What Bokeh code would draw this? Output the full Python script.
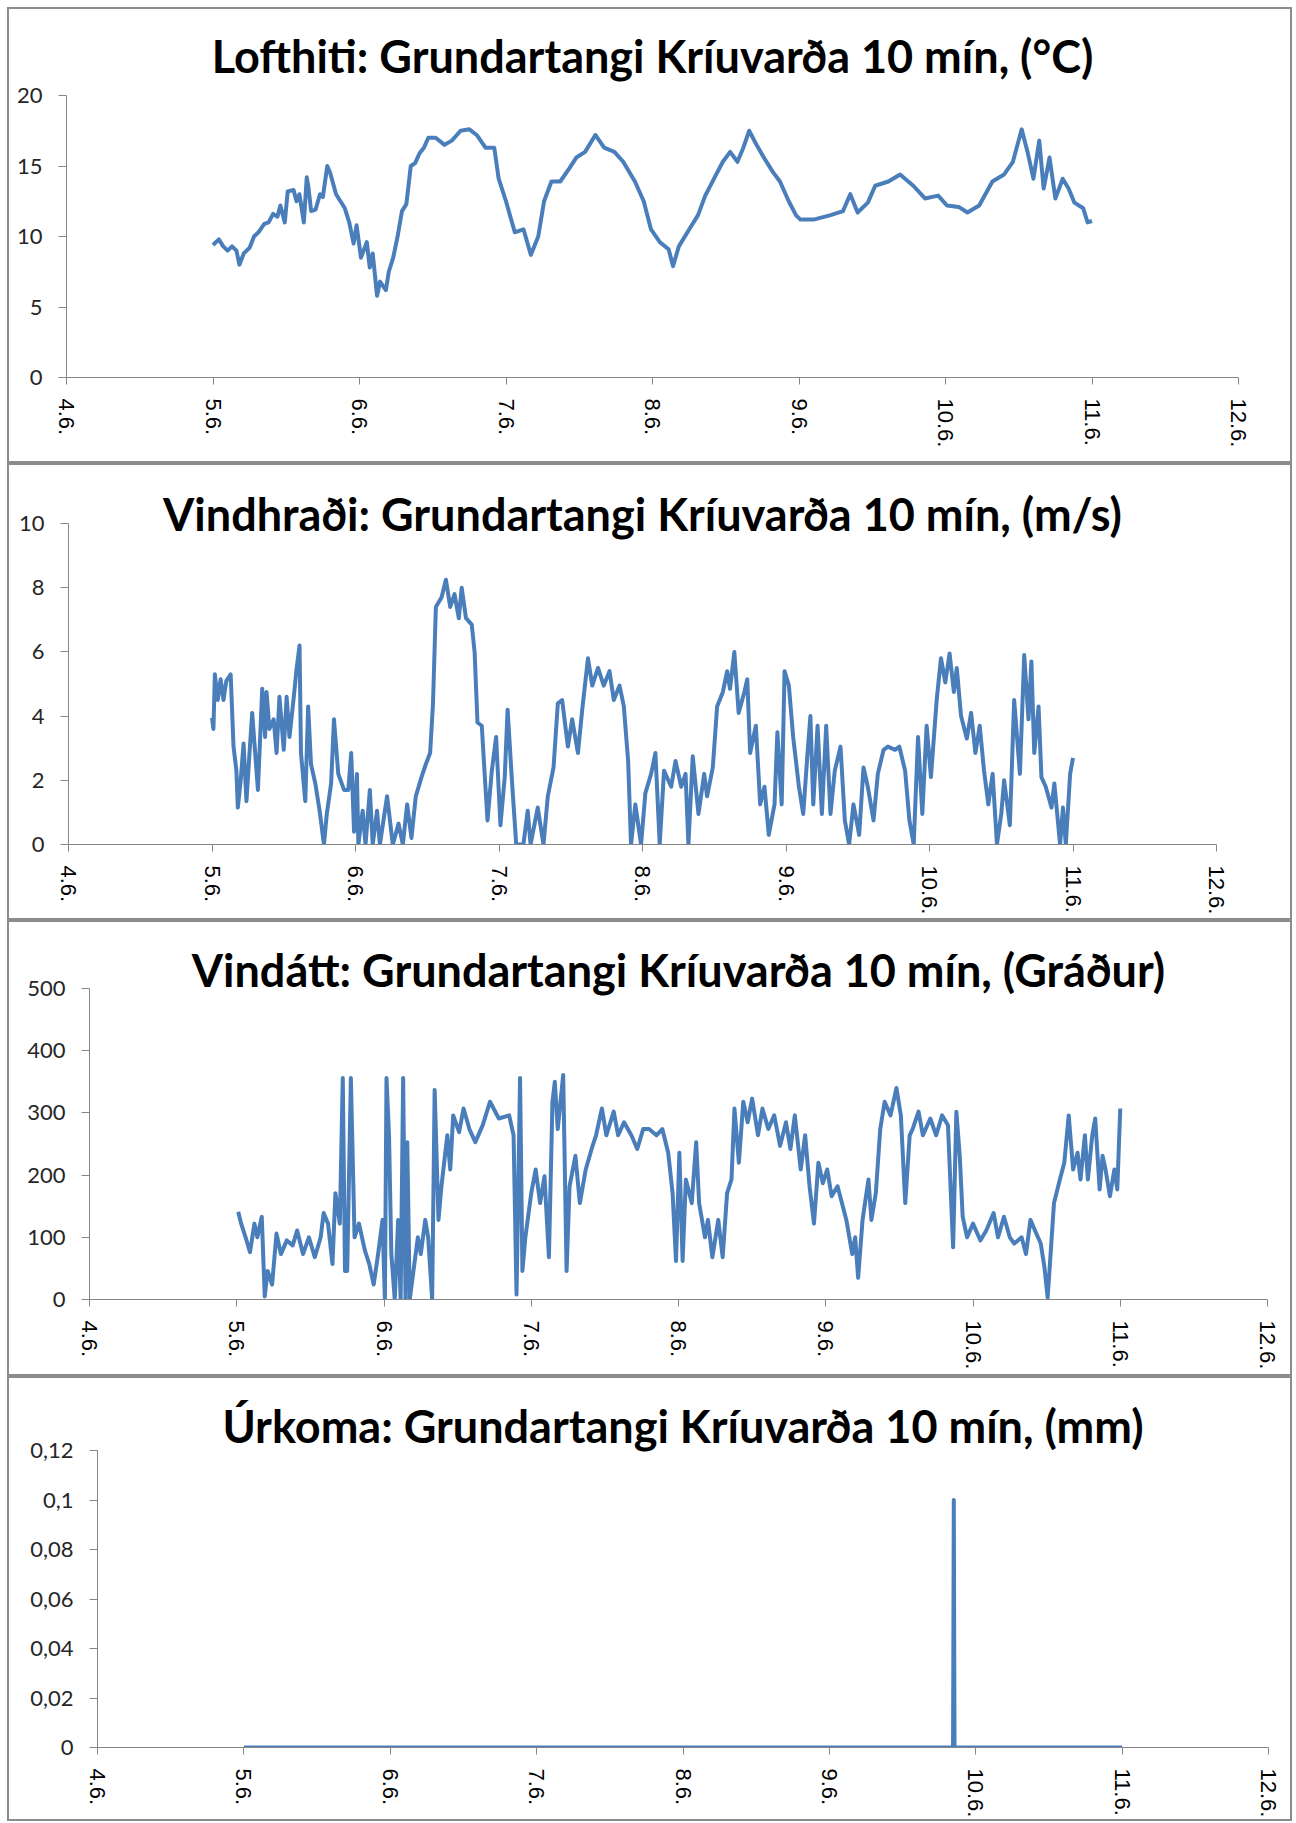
from bokeh.plotting import figure
from bokeh.layouts import column
from bokeh.models import Range1d, FixedTicker, CustomJSTickFormatter
from bokeh.embed import file_html
from bokeh.resources import INLINE

# ---------------- data ----------------
x_ticks = [4, 5, 6, 7, 8, 9, 10, 11, 12]
x_tick_labels = ["4.6.", "5.6.", "6.6.", "7.6.", "8.6.", "9.6.", "10.6.", "11.6.", "12.6."]

temp_day = [5.00, 5.04, 5.07, 5.10, 5.13, 5.16, 5.18, 5.21, 5.25, 5.28, 5.31, 5.35, 5.38, 5.41, 5.44,
            5.46, 5.49, 5.51, 5.55, 5.57, 5.59, 5.62, 5.64, 5.65, 5.67, 5.70, 5.73, 5.75, 5.78, 5.80,
            5.84, 5.87, 5.90, 5.93, 5.96, 5.98, 6.01, 6.05, 6.07, 6.09, 6.12, 6.14, 6.18, 6.20, 6.23,
            6.26, 6.29, 6.32, 6.35, 6.38, 6.41, 6.44, 6.47, 6.52, 6.58, 6.63, 6.69, 6.75, 6.80, 6.86,
            6.92, 6.95, 7.00, 7.06, 7.12, 7.17, 7.22, 7.26, 7.31, 7.37, 7.43, 7.48, 7.54, 7.61, 7.67,
            7.74, 7.80, 7.88, 7.94, 7.99, 8.05, 8.11, 8.14, 8.18, 8.25, 8.31, 8.36, 8.42, 8.48, 8.53,
            8.58, 8.62, 8.66, 8.71, 8.76, 8.82, 8.87, 8.93, 8.98, 9.01, 9.10, 9.21, 9.30, 9.35, 9.40,
            9.47, 9.52, 9.61, 9.69, 9.78, 9.86, 9.95, 10.01, 10.09, 10.15, 10.23, 10.32, 10.40, 10.46,
            10.52, 10.56, 10.60, 10.64, 10.67, 10.71, 10.75, 10.80, 10.84, 10.88, 10.94, 10.97, 11.00]
temp_val = [9.4, 9.8, 9.3, 9.0, 9.3, 9.0, 8.0, 8.8, 9.2, 10.0, 10.3, 10.9, 11.0, 11.6, 11.4,
            12.2, 11.0, 13.2, 13.3, 12.5, 13.0, 11.0, 14.2, 13.6, 11.8, 11.9, 13.0, 12.8, 15.0, 14.5,
            13.0, 12.5, 12.0, 11.0, 9.5, 10.8, 8.5, 9.6, 7.8, 8.8, 5.8, 6.8, 6.2, 7.5, 8.5,
            10.0, 11.8, 12.3, 15.0, 15.2, 15.9, 16.3, 17.0, 17.0, 16.5, 16.8, 17.5, 17.6, 17.2, 16.3,
            16.3, 14.1, 12.5, 10.3, 10.5, 8.7, 10.0, 12.5, 13.9, 13.9, 14.8, 15.6, 16.0, 17.2, 16.3,
            16.0, 15.3, 13.9, 12.5, 10.5, 9.6, 9.1, 7.9, 9.3, 10.5, 11.5, 12.9, 14.1, 15.3, 16.0,
            15.3, 16.3, 17.5, 16.5, 15.6, 14.6, 13.9, 12.5, 11.5, 11.2, 11.2, 11.5, 11.8, 13.0, 11.7,
            12.4, 13.6, 13.9, 14.4, 13.6, 12.7, 12.9, 12.2, 12.1, 11.7, 12.2, 13.9, 14.4, 15.3,
            17.6, 16.0, 14.1, 16.8, 13.4, 15.6, 12.7, 14.1, 13.4, 12.4, 12.0, 11.0, 11.1]

wind_day = [5.00, 5.01, 5.02, 5.04, 5.06, 5.08, 5.10, 5.13, 5.15, 5.17, 5.18, 5.20, 5.22, 5.24, 5.26,
            5.28, 5.32, 5.35, 5.37, 5.38, 5.40, 5.43, 5.45, 5.47, 5.50, 5.52, 5.54, 5.57, 5.59, 5.61,
            5.62, 5.65, 5.67, 5.69, 5.72, 5.75, 5.78, 5.80, 5.83, 5.85, 5.88, 5.92, 5.95, 5.97, 5.99,
            6.01, 6.02, 6.05, 6.07, 6.10, 6.12, 6.15, 6.17, 6.22, 6.26, 6.30, 6.33, 6.36, 6.39, 6.42,
            6.46, 6.49, 6.52, 6.54, 6.56, 6.60, 6.63, 6.66, 6.69, 6.72, 6.74, 6.77, 6.81, 6.83, 6.85,
            6.88, 6.90, 6.92, 6.95, 6.98, 7.01, 7.04, 7.06, 7.09, 7.12, 7.17, 7.20, 7.22, 7.27, 7.31,
            7.34, 7.38, 7.41, 7.44, 7.48, 7.51, 7.55, 7.58, 7.62, 7.65, 7.69, 7.73, 7.77, 7.80, 7.84,
            7.87, 7.90, 7.92, 7.95, 7.99, 8.02, 8.06, 8.09, 8.12, 8.15, 8.20, 8.23, 8.27, 8.30, 8.32,
            8.35, 8.39, 8.43, 8.45, 8.49, 8.52, 8.56, 8.59, 8.61, 8.64, 8.67, 8.71, 8.73, 8.75, 8.79,
            8.82, 8.85, 8.88, 8.92, 8.94, 8.97, 8.99, 9.02, 9.05, 9.09, 9.12, 9.15, 9.17, 9.19, 9.22,
            9.25, 9.28, 9.31, 9.34, 9.38, 9.41, 9.44, 9.47, 9.51, 9.54, 9.57, 9.61, 9.64, 9.68, 9.71,
            9.76, 9.79, 9.83, 9.86, 9.89, 9.92, 9.95, 9.98, 10.01, 10.05, 10.08, 10.11, 10.14, 10.17,
            10.19, 10.22, 10.26, 10.29, 10.32, 10.35, 10.38, 10.41, 10.44, 10.47, 10.50, 10.52, 10.56,
            10.59, 10.63, 10.66, 10.69, 10.71, 10.73, 10.76, 10.78, 10.81, 10.85, 10.87, 10.91, 10.93,
            10.95, 10.98, 11.00]
wind_val = [3.95, 3.6, 5.3, 4.5, 5.15, 4.5, 5.1, 5.3, 3.05, 2.3, 1.15, 2.0, 3.15, 1.35, 2.75,
            4.1, 1.7, 4.85, 3.35, 4.75, 3.6, 3.9, 2.85, 4.6, 2.95, 4.6, 3.35, 4.6, 5.5, 6.2,
            2.85, 1.35, 4.3, 2.5, 1.9, 1.05, 0.0, 0.95, 1.9, 3.9, 2.2, 1.7, 1.7, 2.85, 0.4,
            2.2, 0.0, 1.05, 0.0, 1.7, 0.0, 1.05, 0.0, 1.5, 0.0, 0.65, 0.0, 1.25, 0.2, 1.5,
            2.1, 2.5, 2.85, 4.4, 7.4, 7.7, 8.25, 7.4, 7.8, 7.05, 8.0, 7.05, 6.85, 6.0, 3.8,
            3.7, 2.2, 0.75, 2.3, 3.35, 0.6, 2.1, 4.2, 2.0, 0.0, 0.0, 1.05, 0.0, 1.15, 0.0,
            1.5, 2.4, 4.4, 4.5, 3.05, 3.9, 2.85, 4.2, 5.8, 4.95, 5.5, 4.95, 5.4, 4.5, 4.95,
            4.3, 2.6, 0.0, 1.25, 0.0, 1.6, 2.2, 2.85, 0.0, 2.3, 1.8, 2.6, 1.8, 2.2, 0.0,
            2.75, 0.95, 2.2, 1.5, 2.4, 4.3, 4.75, 5.4, 4.85, 6.0, 4.1, 4.75, 5.15, 2.85, 3.7,
            1.25, 1.8, 0.3, 1.25, 3.5, 1.25, 5.4, 4.95, 3.35, 1.8, 0.95, 2.85, 4.0, 1.25, 3.7,
            0.95, 3.7, 0.95, 2.3, 3.05, 0.75, 0.0, 1.25, 0.3, 2.4, 1.8, 0.75, 2.2, 2.95, 3.05,
            2.95, 3.05, 2.3, 0.75, 0.0, 3.35, 0.95, 3.7, 2.1, 4.5, 5.8, 5.05, 5.95, 4.75,
            5.5, 4.0, 3.3, 4.1, 2.85, 3.7, 2.3, 1.25, 2.2, 0.0, 0.95, 2.0, 0.6,
            4.5, 2.2, 5.9, 3.9, 5.7, 2.85, 4.3, 2.1, 1.8, 1.15, 1.9, 0.0, 1.15,
            0.0, 2.2, 2.7]

dir_day = [5.01, 5.03, 5.06, 5.09, 5.12, 5.14, 5.17, 5.19, 5.21, 5.24, 5.27, 5.30, 5.34, 5.38, 5.41,
           5.45, 5.49, 5.53, 5.57, 5.59, 5.62, 5.65, 5.67, 5.70, 5.72, 5.735, 5.75, 5.775, 5.80, 5.83,
           5.87, 5.90, 5.93, 5.96, 5.99, 6.006, 6.017, 6.034, 6.05, 6.073, 6.096, 6.113, 6.13, 6.146,
           6.158, 6.175, 6.20, 6.23, 6.25, 6.28, 6.30, 6.327, 6.344, 6.37, 6.39, 6.43, 6.45, 6.47,
           6.51, 6.54, 6.58, 6.62, 6.67, 6.72, 6.78, 6.85, 6.88, 6.90, 6.924, 6.94, 6.96, 7.00,
           7.03, 7.06, 7.09, 7.12, 7.144, 7.16, 7.18, 7.217, 7.24, 7.26, 7.30, 7.33, 7.37, 7.41,
           7.44, 7.48, 7.51, 7.56, 7.59, 7.63, 7.68, 7.72, 7.76, 7.80, 7.85, 7.89, 7.93, 7.96,
           7.983, 8.006, 8.028, 8.05, 8.09, 8.12, 8.14, 8.18, 8.20, 8.23, 8.27, 8.30, 8.33, 8.36,
           8.38, 8.41, 8.44, 8.47, 8.50, 8.54, 8.57, 8.61, 8.65, 8.69, 8.73, 8.76, 8.79, 8.83,
           8.86, 8.89, 8.92, 8.95, 8.98, 9.01, 9.04, 9.08, 9.11, 9.14, 9.18, 9.20, 9.22, 9.25,
           9.29, 9.31, 9.34, 9.37, 9.40, 9.44, 9.48, 9.51, 9.54, 9.57, 9.59, 9.63, 9.66, 9.71,
           9.75, 9.79, 9.83, 9.865, 9.887, 9.91, 9.93, 9.96, 10.00, 10.05, 10.09, 10.14, 10.17,
           10.21, 10.25, 10.28, 10.33, 10.36, 10.39, 10.43, 10.46, 10.485, 10.507, 10.53, 10.55,
           10.59, 10.62, 10.65, 10.68, 10.71, 10.73, 10.76, 10.78, 10.81, 10.83, 10.86, 10.88,
           10.90, 10.93, 10.96, 10.98, 11.00]
dir_val = [141, 122, 100, 76, 122, 100, 133, 5, 46, 24, 106, 73, 95, 87, 111,
           73, 100, 68, 100, 139, 122, 57, 171, 122, 356, 46, 46, 356, 100, 122,
           79, 57, 24, 73, 128, 0, 356, 264, 73, 0, 128, 0, 356, 0,
           253, 0, 46, 100, 73, 128, 100, 0, 337, 128, 182, 264, 209, 296,
           269, 307, 274, 253, 280, 318, 291, 296, 264, 8, 356, 46, 100, 171,
           209, 155, 198, 68, 318, 350, 274, 361, 46, 182, 231, 155, 209, 242,
           264, 307, 264, 302, 264, 285, 264, 242, 274, 274, 264, 274, 236, 171,
           62, 236, 62, 193, 155, 253, 155, 100, 128, 68, 128, 68, 171, 193,
           307, 220, 318, 285, 323, 264, 307, 274, 296, 247, 285, 242, 296, 209,
           264, 182, 122, 220, 187, 209, 166, 182, 155, 128, 73, 100, 35, 128,
           193, 128, 171, 274, 318, 296, 340, 296, 155, 264, 274, 302, 264, 291,
           264, 296, 280, 84, 302, 231, 133, 100, 122, 95, 111, 139, 100,
           133, 100, 90, 100, 73, 128, 106, 90, 52, 3, 84, 155,
           193, 220, 296, 209, 236, 193, 264, 193, 264, 291, 177, 231,
           209, 166, 209, 177, 307]

rain_day = [5.00, 9.845, 9.85, 9.855, 11.00]
rain_val = [0.0, 0.0, 0.1, 0.0, 0.0]

panels = [
    dict(title="Lofthiti: Grundartangi Kríuvarða 10 mín, (°C)", x=temp_day, y=temp_val,
         y_ticks=[0, 5, 10, 15, 20], height=456, left=57, right=56, top=86, bottom=88,
         offset=-2, standoff=25),
    dict(title="Vindhraði: Grundartangi Kríuvarða 10 mín, (m/s)", x=wind_day, y=wind_val,
         y_ticks=[0, 2, 4, 6, 8, 10], height=457, left=59, right=78, top=58, bottom=78,
         offset=8, standoff=-35),
    dict(title="Vindátt: Grundartangi Kríuvarða 10 mín, (Gráður)", x=dir_day, y=dir_val,
         y_ticks=[0, 100, 200, 300, 400, 500], height=456, left=80, right=27, top=66, bottom=79,
         offset=-28, standoff=-17),
    dict(title="Úrkoma: Grundartangi Kríuvarða 10 mín, (mm)", x=rain_day, y=rain_val,
         y_ticks=[0, 0.02, 0.04, 0.06, 0.08, 0.1, 0.12], height=445, left=88, right=26, top=72,
         bottom=76, offset=-32, standoff=-5),
]

AXIS_GRAY = "#868686"
LINE_BLUE = "#4a7ebb"

figs = []
for cfg in panels:
    p = figure(width=1285, height=cfg["height"],
               x_range=Range1d(4, 12), y_range=Range1d(0, cfg["y_ticks"][-1]),
               output_backend="svg", toolbar_location=None,
               min_border_left=cfg["left"], min_border_right=cfg["right"],
               min_border_top=cfg["top"], min_border_bottom=cfg["bottom"],
               background_fill_color="white", border_fill_color="white")
    if "frame_align" in p.properties():
        p.frame_align = False
    p.styles = {"border": "2px solid #8c8c8c"}
    p.outline_line_color = None
    p.xgrid.visible = False
    p.ygrid.visible = False

    p.title.text = cfg["title"]
    p.title.align = "center"
    p.title.text_font = "Lato"
    p.title.text_font_style = "bold"
    p.title.text_font_size = "45px"
    p.title.text_color = "black"
    p.title.offset = cfg["offset"]
    p.title.standoff = cfg["standoff"]

    p.line(cfg["x"], cfg["y"], line_color=LINE_BLUE, line_width=4, line_join="round")

    xa = p.xaxis[0]
    xa.ticker = FixedTicker(ticks=x_ticks)
    xa.major_label_overrides = {t: lab for t, lab in zip(x_ticks, x_tick_labels)}
    xa.major_label_orientation = "vertical"
    xa.major_label_text_font = "Liberation Sans"
    xa.major_label_text_font_size = "22px"
    xa.major_label_text_color = "black"
    xa.major_label_standoff = 14
    xa.major_tick_in = 0
    xa.major_tick_out = 7
    xa.minor_tick_line_color = None
    xa.axis_line_color = AXIS_GRAY
    xa.major_tick_line_color = AXIS_GRAY

    ya = p.yaxis[0]
    ya.ticker = FixedTicker(ticks=cfg["y_ticks"])
    ya.formatter = CustomJSTickFormatter(code="""
        let s = tick.toFixed(2);
        s = s.replace(/0+$/, '').replace(/\\.$/, '');
        return s.replace('.', ',');
    """)
    ya.major_label_text_font = "Lato"
    ya.major_label_text_font_size = "22px"
    ya.major_label_text_color = "#262626"
    ya.major_label_standoff = 16
    ya.major_tick_in = 0
    ya.major_tick_out = 8
    ya.minor_tick_line_color = None
    ya.axis_line_color = AXIS_GRAY
    ya.major_tick_line_color = AXIS_GRAY
    figs.append(p)

layout = column(*figs, spacing=0, margin=(7, 0, 0, 7))
open("out.html", "w").write(file_html(layout, INLINE))
